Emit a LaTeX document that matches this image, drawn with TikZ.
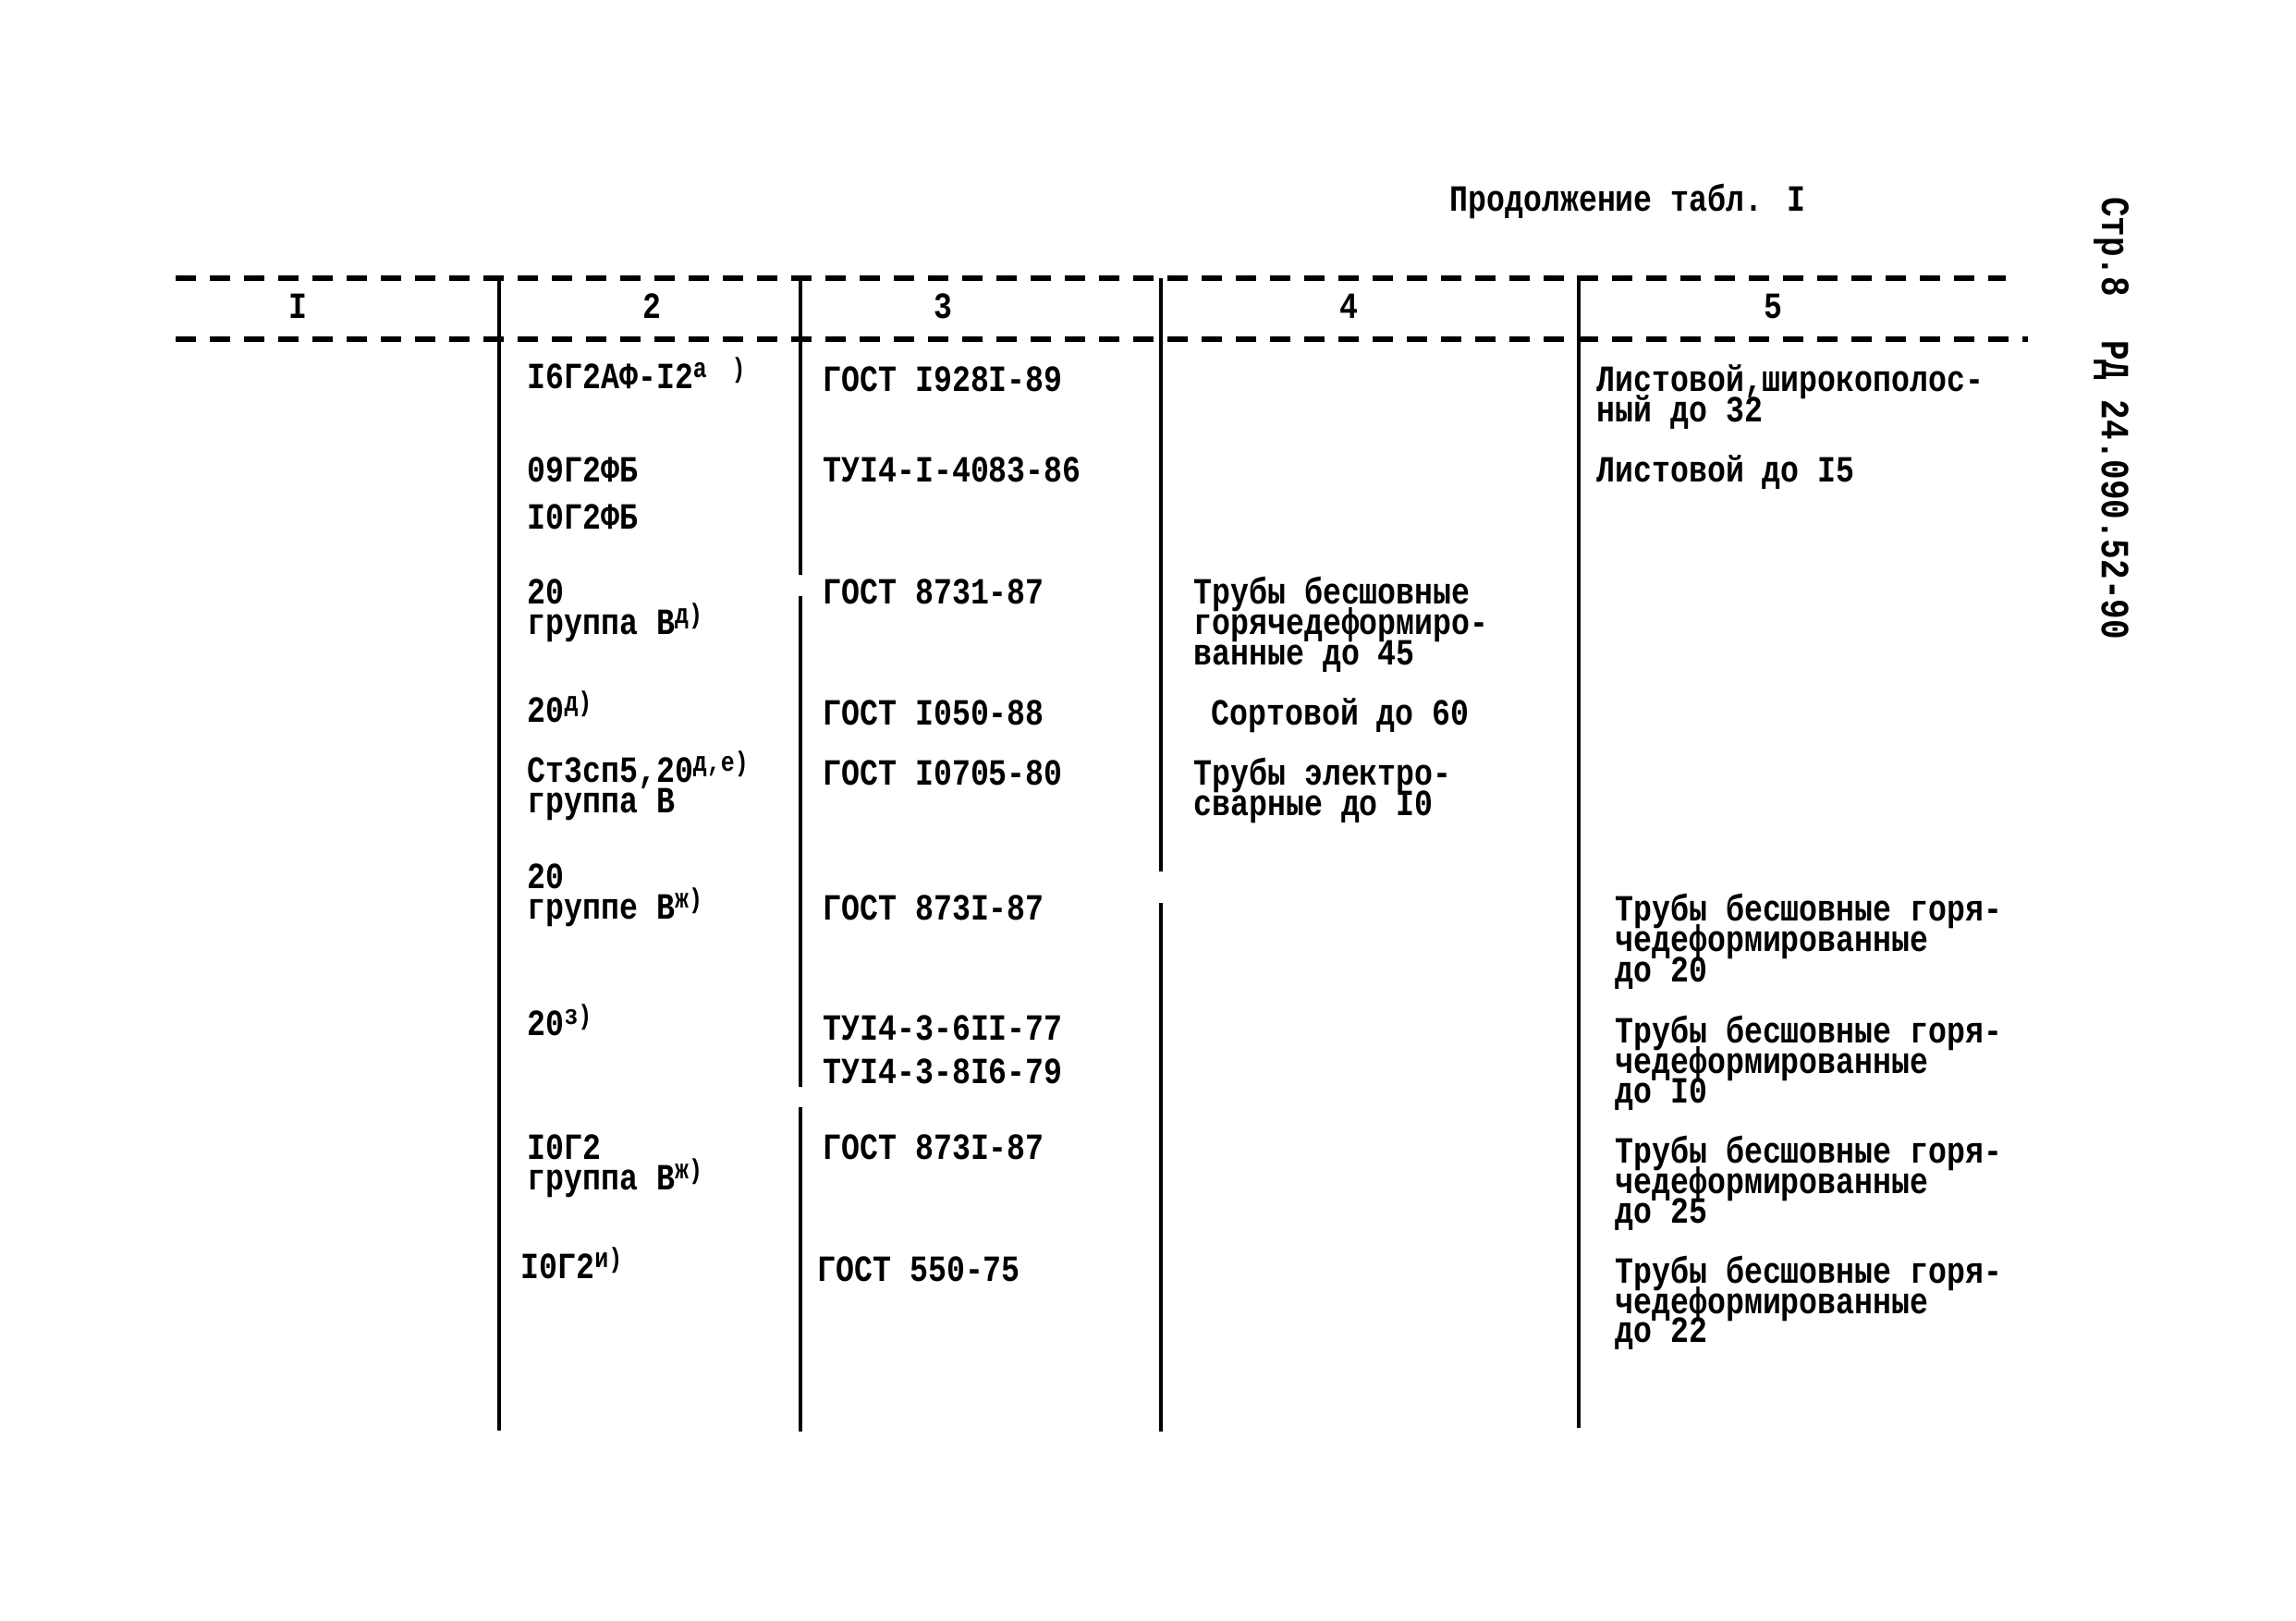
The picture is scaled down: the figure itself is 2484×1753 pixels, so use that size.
\documentclass[tikz,border=0pt]{standalone}
\usepackage{fontspec}
\newfontfamily\tw{Liberation Mono}[FakeStretch=0.83]
\newcommand{\sups}[1]{\raisebox{0.55ex}{\fontsize{9}{9}\selectfont #1}}
\begin{document}
\begin{tikzpicture}[x=0.3pt,y=-0.3pt,
  t/.style={anchor=base west,inner sep=0pt,text height=6.8pt,text depth=1.8pt,font=\tw\bfseries\fontsize{12}{10}\selectfont},
  hd/.style={anchor=base,inner sep=0pt,font=\tw\bfseries\fontsize{12}{10}\selectfont},
  vt/.style={anchor=center,inner sep=0pt,rotate=-90,font=\tw\bfseries\fontsize{13}{10}\selectfont},
  dashrule/.style={line width=1.6pt,dash pattern=on 6.6pt off 4.5pt},
  vrule/.style={line width=1.2pt}]
\fill[white] (0,0) rectangle (2484,1753);
\useasboundingbox (0,0) rectangle (2484,1753);

% header
\node[t] (hdr) at (1568,228) {Продолжение табл. I};
\node[vt] (pg) at (2284,267) {Стр.8};
\node[vt] (doc) at (2284,530) {РД 24.090.52-90};

% rules
\draw[dashrule] (190,301) -- (2170,301);
\draw[dashrule] (190,367) -- (2194,367);
\draw[vrule] (540,301) -- (540,1548);
\draw[vrule] (866,301) -- (866,622);
\draw[vrule] (866,645) -- (866,1176);
\draw[vrule] (866,1198) -- (866,1549);
\draw[vrule] (1256,301) -- (1256,943);
\draw[vrule] (1256,977) -- (1256,1549);
\draw[vrule] (1708,298) -- (1708,1545);

% column heads
\node[hd] (h1) at (322,344) {I};
\node[hd] (h2) at (705,344) {2};
\node[hd] (h3) at (1020,344) {3};
\node[hd] (h4) at (1459,344) {4};
\node[hd] (h5) at (1918,344) {5};

% column 2
\node[t] (a1) at (570,420) {I6Г2АФ-I2\sups{а}\hspace{8pt}\sups{)}};
\node[t] (a2) at (570,521) {09Г2ФБ};
\node[t] (a3) at (570,572) {I0Г2ФБ};
\node[t] (a4) at (570,653) {20};
\node[t] (a5) at (570,686) {группа В\sups{д)}};
\node[t] (a6) at (570,781) {20\sups{д)}};
\node[t] (a7) at (570,846) {Ст3сп5,20\sups{д,е)}};
\node[t] (a8) at (570,879) {группа В};
\node[t] (a9) at (570,961) {20};
\node[t] (a10) at (570,994) {группе В\sups{ж)}};
\node[t] (a11) at (570,1120) {20\sups{з)}};
\node[t] (a12) at (570,1254) {I0Г2};
\node[t] (a13) at (570,1287) {группа В\sups{ж)}};
\node[t] (a14) at (563,1383) {I0Г2\sups{и)}};

% column 3
\node[t] (b1) at (890,423) {ГОСТ I928I-89};
\node[t] (b2) at (890,521) {ТУI4-I-4083-86};
\node[t] (b3) at (890,653) {ГОСТ 8731-87};
\node[t] (b4) at (890,784) {ГОСТ I050-88};
\node[t] (b5) at (890,849) {ГОСТ I0705-80};
\node[t] (b6) at (890,995) {ГОСТ 873I-87};
\node[t] (b7) at (890,1125) {ТУI4-3-6II-77};
\node[t] (b8) at (890,1172) {ТУI4-3-8I6-79};
\node[t] (b9) at (890,1254) {ГОСТ 873I-87};
\node[t] (b10) at (884,1386) {ГОСТ 550-75};

% column 4
\node[t] (c1) at (1291,653) {Трубы бесшовные};
\node[t] (c2) at (1291,686) {горячедеформиро-};
\node[t] (c3) at (1291,719) {ванные до 45};
\node[t] (c4) at (1310,784) {Сортовой до 60};
\node[t] (c5) at (1291,849) {Трубы электро-};
\node[t] (c6) at (1291,882) {сварные до I0};

% column 5
\node[t] (d1) at (1727,423) {Листовой,широкополос-};
\node[t] (d2) at (1727,456) {ный до 32};
\node[t] (d3) at (1727,521) {Листовой до I5};
\node[t] (d4) at (1747,996) {Трубы бесшовные горя-};
\node[t] (d5) at (1747,1029) {чедеформированные};
\node[t] (d6) at (1747,1062) {до 20};
\node[t] (d7) at (1747,1128) {Трубы бесшовные горя-};
\node[t] (d8) at (1747,1161) {чедеформированные};
\node[t] (d9) at (1747,1193) {до I0};
\node[t] (d10) at (1747,1258) {Трубы бесшовные горя-};
\node[t] (d11) at (1747,1291) {чедеформированные};
\node[t] (d12) at (1747,1323) {до 25};
\node[t] (d13) at (1747,1388) {Трубы бесшовные горя-};
\node[t] (d14) at (1747,1421) {чедеформированные};
\node[t] (d15) at (1747,1452) {до 22};
\end{tikzpicture}
\end{document}
